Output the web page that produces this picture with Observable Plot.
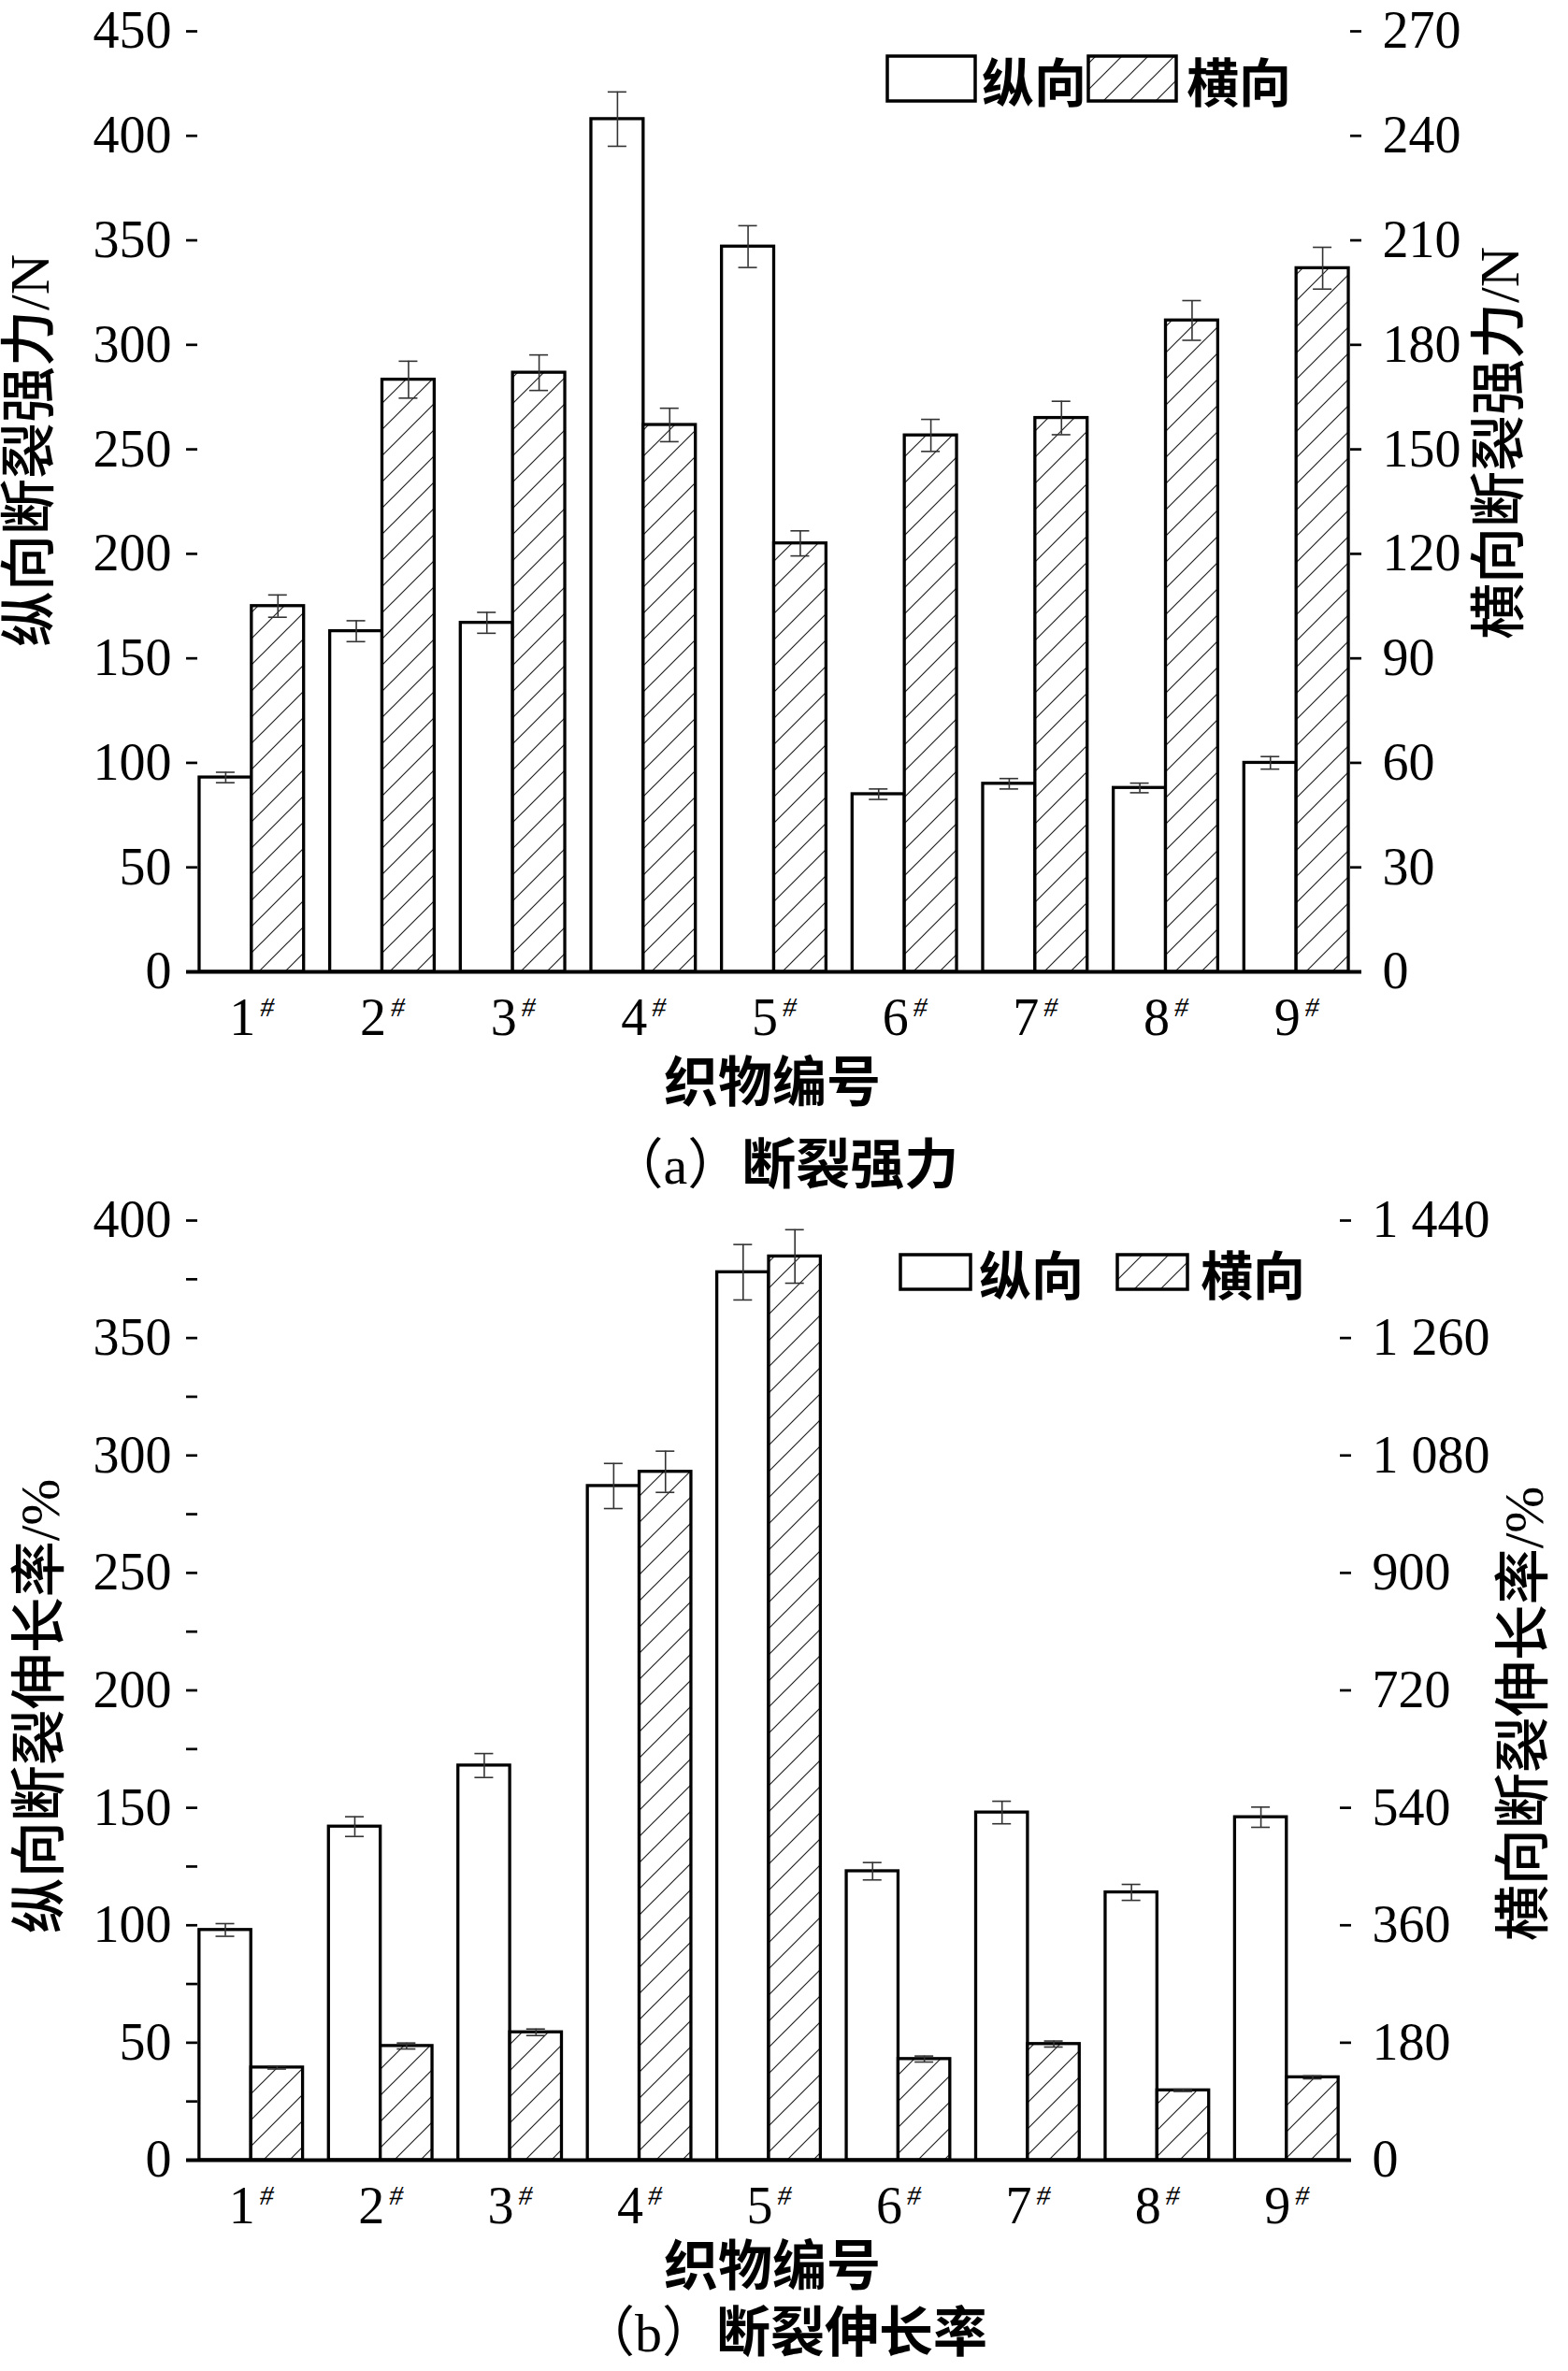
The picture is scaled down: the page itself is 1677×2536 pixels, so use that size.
<!DOCTYPE html>
<html><head><meta charset="utf-8">
<script src="https://cdn.jsdelivr.net/npm/d3@7"></script>
<script src="https://cdn.jsdelivr.net/npm/@observablehq/plot@0.6"></script>
<style>
body{margin:0;background:#fff;}
#wrap{position:relative;width:1677px;height:2536px;background:#fff;overflow:hidden;}
#wrap svg{position:absolute;left:0;}
.cap{position:absolute;left:0;width:1677px;text-align:center;font-size:58px;color:#000;white-space:pre;height:64px;line-height:64px;}
.ser{font-family:'Liberation Serif','Noto Sans CJK SC',serif;font-weight:400;}
.hei{font-family:'Noto Sans CJK SC',sans-serif;font-weight:700;}
</style></head><body><div id="wrap"></div>
<script>
// ---------- data ----------
const categories = ["1#","2#","3#","4#","5#","6#","7#","8#","9#"];
const seriesNames = ["纵向","横向"];

// (a) 断裂强力 — 纵向 on left axis (N), 横向 on right axis (N)
const warpStrength    = [93, 163, 167, 408, 347, 85, 90, 88, 100];
const warpStrengthErr = [2.5, 5, 5, 13, 10, 2.5, 2.5, 2.3, 3];
const weftStrength    = [105, 170, 172, 157, 123, 154, 159, 187, 202];
const weftStrengthErr = [3.2, 5.3, 5.1, 4.8, 3.6, 4.6, 4.8, 5.7, 6];
const strengthLeftTicks  = [0,50,100,150,200,250,300,350,400,450];
const strengthRightTicks = [0,30,60,90,120,150,180,210,240,270];

// (b) 断裂伸长率 — 纵向 on left axis (%), 横向 on right axis (%)
const warpElong    = [98, 142, 168, 287, 378, 123, 148, 114, 146];
const warpElongErr = [2.7, 4.2, 5.1, 9.6, 11.8, 3.7, 4.8, 3.4, 4.3];
const weftElong    = [142, 175, 196, 1055, 1385, 155, 178, 107, 127];
const weftElongErr = [2.3, 4.6, 5, 31.6, 41, 4.6, 4.6, 1.7, 2.3];
const elongLeftTicks  = [0,50,100,150,200,250,300,350,400];
const elongMinorTicks = [25,75,125,175,225,275,325,375];
const elongRightTicks = [0,180,360,540,720,900,1080,1260,1440];

// ---------- helpers ----------
const W = 1677, ML = 199;
const SERIF = "'Liberation Serif','Noto Sans CJK SC',serif";
const HEI = "'Noto Sans CJK SC',sans-serif";

function fmtRight(v){
  const s = String(Math.round(v));
  return s.length > 3 ? s.slice(0, s.length-3) + " " + s.slice(s.length-3) : s;
}

function makeChart(cfg){
  const {warp, warpErr, weft, weftErr, leftTicks, rightTicks, minorTicks,
         height, marginTop, marginBottom, marginRight, hatchId} = cfg;
  const leftMax = leftTicks[leftTicks.length-1];
  const ratio = rightTicks[rightTicks.length-1] / leftMax; // right units per left unit
  const rows = categories.map((c,i) => ({
    cat: c, warp: warp[i], warpErr: warpErr[i],
    weft: weft[i] / ratio, weftErr: weftErr[i] / ratio
  }));
  const frameW = W - ML - marginRight;
  const bw = d3.scaleBand().domain(categories).range([ML, W - marginRight])
    .paddingInner(0.2).paddingOuter(0.1).bandwidth();
  const capW = 20, tickLen = 12;
  const rightLabel = new Map(leftTicks.map((t,i) => [t, fmtRight(rightTicks[i])]));
  const errStyle = {stroke:"#333", strokeWidth:1.6};
  const tickStyle = {stroke:"black", strokeWidth:2.7};
  const allLeftTicks = minorTicks ? leftTicks.concat(minorTicks) : leftTicks;
  const marks = [
    Plot.barY(rows, {x:"cat", y:"warp", fill:"white", stroke:"black", strokeWidth:3.3, insetRight: bw/2}),
    Plot.barY(rows, {x:"cat", y:"weft", fill:`url(#${hatchId})`, stroke:"black", strokeWidth:3.3, insetLeft: bw/2}),
    // error bars 纵向
    Plot.ruleX(rows, {x:"cat", y1:d=>d.warp-d.warpErr, y2:d=>d.warp+d.warpErr, dx:-bw/4, ...errStyle}),
    Plot.tickY(rows, {x:"cat", y:d=>d.warp+d.warpErr, insetLeft:bw/4-capW/2, insetRight:3*bw/4-capW/2, ...errStyle}),
    Plot.tickY(rows, {x:"cat", y:d=>d.warp-d.warpErr, insetLeft:bw/4-capW/2, insetRight:3*bw/4-capW/2, ...errStyle}),
    // error bars 横向
    Plot.ruleX(rows, {x:"cat", y1:d=>d.weft-d.weftErr, y2:d=>d.weft+d.weftErr, dx:bw/4, ...errStyle}),
    Plot.tickY(rows, {x:"cat", y:d=>d.weft+d.weftErr, insetLeft:3*bw/4-capW/2, insetRight:bw/4-capW/2, ...errStyle}),
    Plot.tickY(rows, {x:"cat", y:d=>d.weft-d.weftErr, insetLeft:3*bw/4-capW/2, insetRight:bw/4-capW/2, ...errStyle}),
    // inward ticks
    Plot.tickY(allLeftTicks, {y:d=>d, insetRight: frameW - tickLen, ...tickStyle}),
    Plot.tickY(leftTicks, {y:d=>d, insetLeft: frameW - tickLen, ...tickStyle}),
    // tick labels
    Plot.axisY({anchor:"left", ticks:leftTicks, tickSize:0, tickPadding:16, label:null, tickFormat:d=>String(d)}),
    Plot.axisY({anchor:"right", ticks:leftTicks, tickSize:0, tickPadding:22, label:null, tickFormat:d=>rightLabel.get(d)}),
    // spines
    Plot.ruleX([0], {frameAnchor:"left", stroke:"black", strokeWidth:3.5}),
    Plot.ruleX([0], {frameAnchor:"right", stroke:"black", strokeWidth:3.5}),
    Plot.axisX({tickSize:0, tickPadding:28, label:null}),
    Plot.ruleY([0], {stroke:"black", strokeWidth:3.8})
  ];
  const svg = Plot.plot({
    width: W, height, marginLeft: ML, marginRight, marginTop, marginBottom,
    x: {type:"band", domain: categories, paddingInner:0.2, paddingOuter:0.1, round:false, label:null},
    y: {domain:[0, leftMax], label:null},
    style: {fontFamily: SERIF, fontSize: "56px", color:"black", background:"white", overflow:"visible"},
    marks
  });
  // hatch pattern
  const s = d3.select(svg);
  const defs = s.insert("defs", ":first-child");
  const p = defs.append("pattern").attr("id", hatchId).attr("patternUnits","userSpaceOnUse")
    .attr("width",28).attr("height",28);
  p.append("rect").attr("width",28).attr("height",28).attr("fill","white");
  p.append("path").attr("d","M0,28L28,0M-7,7L7,-7M21,35L35,21").attr("stroke","#222").attr("stroke-width",1.2).attr("fill","none");
  // superscript #
  s.selectAll('g[aria-label="x-axis tick label"] text').each(function(){
    const m = this.textContent.match(/^(\d+)#$/);
    if (m) {
      this.textContent = m[1];
      d3.select(this).append("tspan").attr("dx",5).attr("dy",-20)
        .attr("font-size",30).attr("font-style","italic").text("#");
    }
  });
  return s;
}

function addText(s, {x, y, text, rotate=0, size=58, family=SERIF, weight=500, anchor="middle"}){
  const t = s.append("text").attr("transform", `translate(${x},${y}) rotate(${rotate})`)
    .attr("text-anchor", anchor).attr("dominant-baseline","central")
    .attr("font-family", family).attr("font-size", size).attr("font-weight", weight).attr("fill","black");
  t.text(text);
  return t;
}

function addLegend(s, L, hatchId){
  const g = s.append("g");
  g.append("rect").attr("x",L.x1).attr("y",L.y).attr("width",L.w).attr("height",L.h)
    .attr("fill","white").attr("stroke","black").attr("stroke-width",3.5);
  addText(g, {x:L.t1, y:L.y+L.h/2, text:seriesNames[0], anchor:"start", family:HEI, weight:700, size:56});
  g.append("rect").attr("x",L.x2).attr("y",L.y).attr("width",L.w).attr("height",L.h)
    .attr("fill",`url(#${hatchId})`).attr("stroke","black").attr("stroke-width",3.5);
  addText(g, {x:L.t2, y:L.y+L.h/2, text:seriesNames[1], anchor:"start", family:HEI, weight:700, size:56});
}

const wrap = document.getElementById("wrap");

// ---------- chart (a) ----------
const sa = makeChart({warp:warpStrength, warpErr:warpStrengthErr, weft:weftStrength, weftErr:weftStrengthErr,
  leftTicks:strengthLeftTicks, rightTicks:strengthRightTicks, height:1200, marginTop:33, marginBottom:161,
  marginRight: W-1456, hatchId:"hatchA"});
sa.style("top","0px");
addText(sa, {x:32, y:482, rotate:-90, text:"纵向断裂强力/N", weight:500, size:60});
addText(sa, {x:1604, y:474, rotate:-90, text:"横向断裂强力/N", weight:500, size:60});
addText(sa, {x:826, y:1153, text:"织物编号", family:HEI, weight:700, size:58});
addLegend(sa, {x1:949, x2:1164, w:94, y:60, h:48, t1:1050, t2:1269}, "hatchA");
wrap.appendChild(sa.node());

const capA = document.createElement("div");
capA.className = "cap"; capA.style.top = "1209px";
capA.innerHTML = '<span class="ser">（a）</span><span class="hei">断裂强力</span>';
wrap.appendChild(capA);

// ---------- chart (b) ----------
const sb = makeChart({warp:warpElong, warpErr:warpElongErr, weft:weftElong, weftErr:weftElongErr,
  leftTicks:elongLeftTicks, rightTicks:elongRightTicks, minorTicks:elongMinorTicks, height:1180,
  marginTop:29, marginBottom:146, marginRight: W-1445, hatchId:"hatchB"});
sb.style("top","1276px");
addText(sb, {x:43, y:549, rotate:-90, text:"纵向断裂伸长率/%", weight:500, size:60});
addText(sb, {x:1630, y:557, rotate:-90, text:"横向断裂伸长率/%", weight:500, size:60});
addText(sb, {x:826, y:1143, text:"织物编号", family:HEI, weight:700, size:58});
addLegend(sb, {x1:963, x2:1195, w:75, y:66, h:37, t1:1047, t2:1284}, "hatchB");
wrap.appendChild(sb.node());

const capB = document.createElement("div");
capB.className = "cap"; capB.style.top = "2458px";
capB.innerHTML = '<span class="ser">（b）</span><span class="hei">断裂伸长率</span>';
wrap.appendChild(capB);
</script>
</body></html>
